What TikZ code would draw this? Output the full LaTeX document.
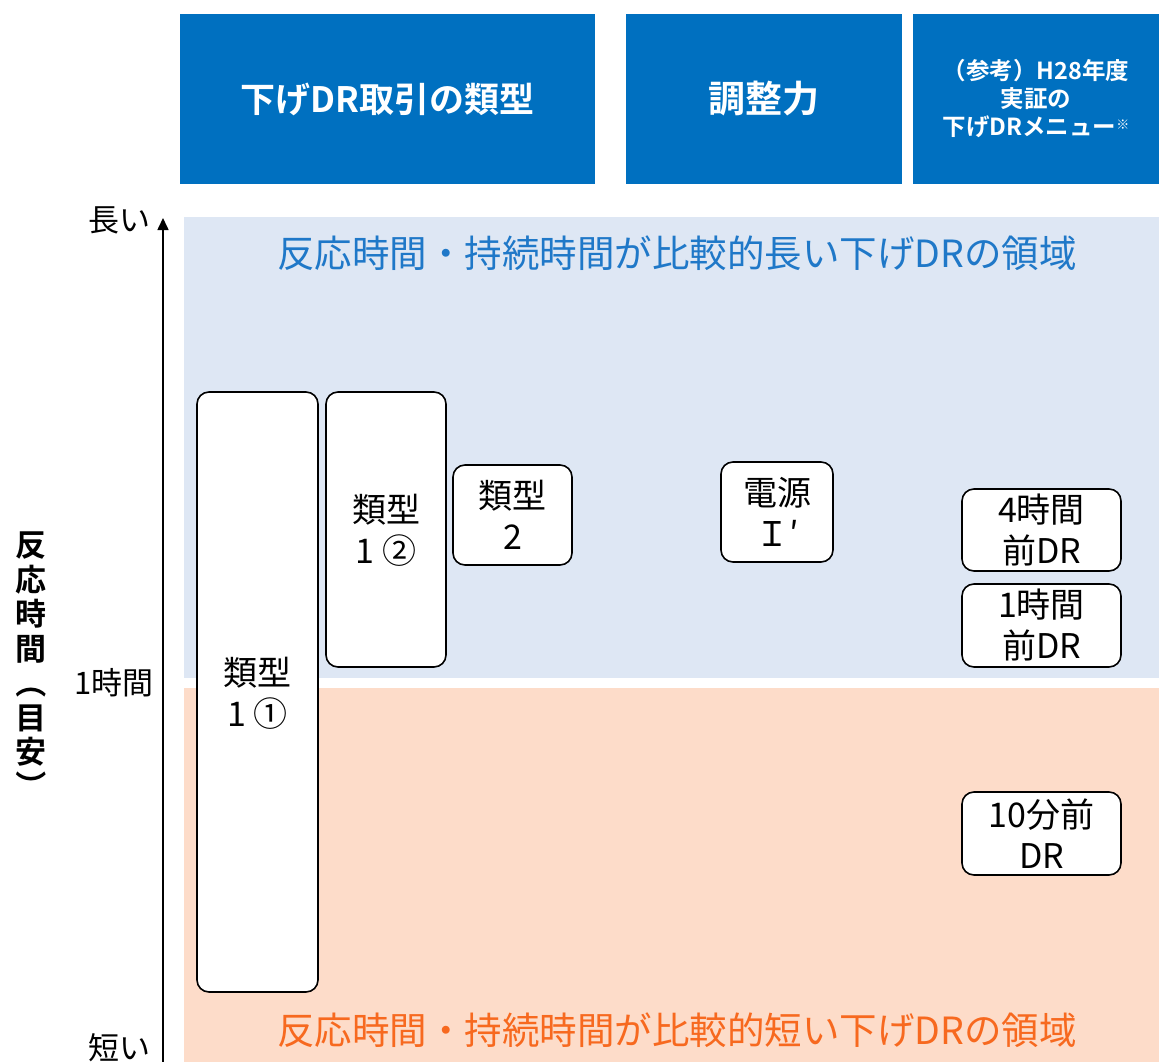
\documentclass[tikz,border=0pt]{standalone}
\usepackage{fontspec}
\usepackage{graphicx}
\setmainfont{Noto Sans CJK JP}[BoldFont={* Bold}]
\usetikzlibrary{arrows.meta}
\definecolor{hdrblue}{HTML}{0070C0}
\definecolor{zoneblue}{HTML}{DEE7F4}
\definecolor{zoneorange}{HTML}{FDDCC9}
\definecolor{txtblue}{HTML}{1F78C8}
\definecolor{txtorange}{HTML}{F7691F}
\tikzset{
  hdr/.style={fill=hdrblue, draw=none, text=white, font=\fontsize{35}{40}\selectfont\bfseries, align=center, inner sep=0pt},
  drbox/.style={draw=black, line width=1.6pt, fill=white, rounded corners=12pt, align=center, inner sep=0pt, font=\fontsize{34}{41}\selectfont},
  boxtxt/.style={font=\fontsize{34}{41}\selectfont, align=center, inner sep=0pt},
  axlab/.style={font=\fontsize{31}{34}\selectfont, inner sep=0pt},
  zonetxt/.style={font=\fontsize{37.5}{42}\selectfont, inner sep=0pt}
}
\begin{document}
\begin{tikzpicture}[x=1pt,y=-1pt]
\useasboundingbox (0,0) rectangle (1159,1062);
% header
\node[hdr, minimum width=415pt, minimum height=170pt] (h1) at (387.5,99) {下げDR取引の類型};
\node[hdr, minimum width=276pt, minimum height=170pt, font=\fontsize{37}{40}\selectfont\bfseries] (h2) at (764,99) {調整力};
\node[hdr, minimum width=246pt, minimum height=170pt, font=\fontsize{23.5}{28}\selectfont\bfseries] (h3) at (1036,99) {（参考）H28年度\\実証の\\下げDRメニュー\raisebox{0.5ex}{\fontsize{13}{13}\selectfont ※}};
% zones
\fill[zoneblue] (184,217) rectangle (1159,678);
\fill[zoneorange] (184,688) rectangle (1159,1062);
\node[zonetxt, text=txtblue] (zt1) at (677,253) {反応時間・持続時間が比較的長い下げDRの領域};
\node[zonetxt, text=txtorange] (zt2) at (677,1030) {反応時間・持続時間が比較的短い下げDRの領域};
% axis
\coordinate (axbot) at (163,1062);
\coordinate (axtop) at (163,218);
\draw[line width=1.6pt, -{Triangle[length=12pt,width=11pt]}] (axbot) -- (axtop);
\node[axlab, anchor=east] (long) at (151,220) {長い};
\node[axlab, anchor=east] (onehour) at (154,683) {1時間};
\node[axlab, anchor=east] (short) at (151,1048) {短い};
\node[font=\fontsize{31}{34.5}\selectfont\bfseries, align=center, inner sep=0pt] (vlab) at (31,667) {反\\応\\時\\間\\\rotatebox[origin=c]{-90}{（}\\目\\安\\\rotatebox[origin=c]{-90}{）}};
% boxes
\node[drbox, minimum width=121pt, minimum height=600pt] (t11) at (257.5,692) {};
\node[boxtxt] (t11t) at (257.5,693) {類型\\1 ①};
\node[drbox, minimum width=120pt, minimum height=275pt] (t12) at (386,529.5) {};
\node[boxtxt] (t12t) at (386,530) {類型\\1 ②};
\node[drbox, minimum width=119pt, minimum height=100pt] (t2) at (512.5,515) {類型\\2};
\node[drbox, minimum width=112pt, minimum height=100pt] (d1) at (777,512) {電源\\Ｉ′};
\node[drbox, minimum width=159pt, minimum height=82pt] (m4) at (1041.5,530) {4時間\\前DR};
\node[drbox, minimum width=159pt, minimum height=83pt] (m1) at (1041.5,625.5) {1時間\\前DR};
\node[drbox, minimum width=159pt, minimum height=83pt] (m10) at (1041.5,833.5) {10分前\\DR};
\end{tikzpicture}
\end{document}
